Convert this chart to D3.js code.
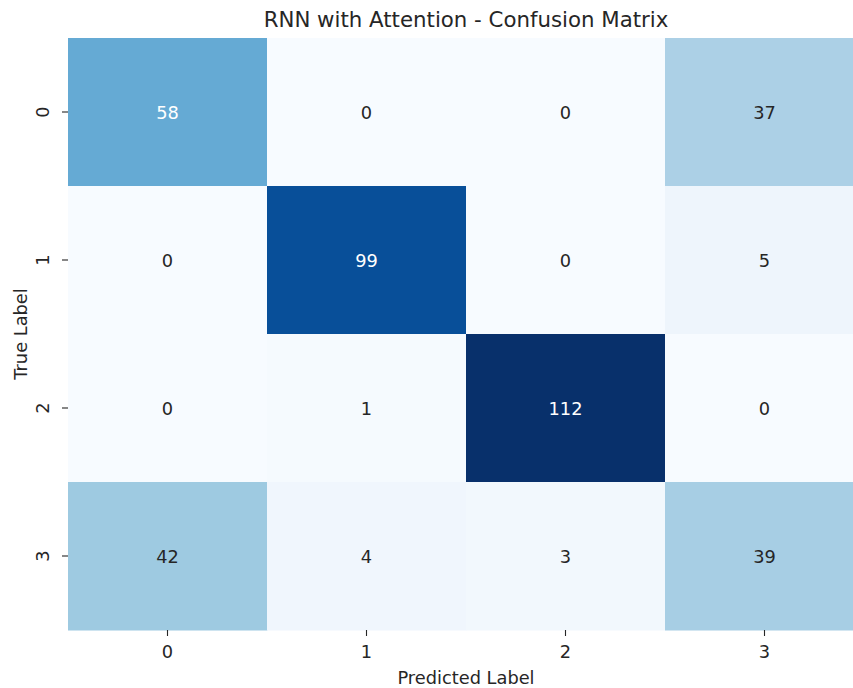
<!DOCTYPE html>
<html>
<head>
<meta charset="utf-8">
<script src="https://cdn.jsdelivr.net/npm/d3@7"></script>
<style>
  html, body { margin: 0; padding: 0; background: #fff; }
  svg { display: block; font-family: "DejaVu Sans", sans-serif; }
</style>
</head>
<body>
<svg id="chart" width="853" height="688"></svg>
<script>
// Confusion matrix counts: rows = true label, columns = predicted label
const classLabels = ["0", "1", "2", "3"];
const row0 = [58, 0, 0, 37];
const row1 = [0, 99, 0, 5];
const row2 = [0, 1, 112, 0];
const row3 = [42, 4, 3, 39];
const matrix = [row0, row1, row2, row3];

const titleText = "RNN with Attention - Confusion Matrix";
const xTitle = "Predicted Label";
const yTitle = "True Label";

const svg = d3.select("#chart");
const margin = { left: 68, top: 38, right: -11, bottom: 58 };
const W = 853, H = 688;
const labelSize = 17.8, titleSize = 21.3;
const ink = "#262626";

const x = d3.scaleBand().domain(classLabels).range([margin.left, W - margin.right]);
const y = d3.scaleBand().domain(classLabels).range([margin.top, H - margin.bottom]);

// Matplotlib-style "Blues" colormap: linear segments through the ColorBrewer stops
const bluesStops = ["#f7fbff", "#deebf7", "#c6dbef", "#9ecae1", "#6baed6",
                    "#4292c6", "#2171b5", "#08519c", "#08306b"];
const blues = d3.piecewise(d3.interpolateRgb, bluesStops);
const allVals = matrix.flat();
const color = d3.scaleSequential(blues).domain([d3.min(allVals), d3.max(allVals)]);

const cells = [];
matrix.forEach((row, i) => row.forEach((v, j) => cells.push({ r: classLabels[i], c: classLabels[j], v })));

svg.append("g").selectAll("rect").data(cells).join("rect")
  .attr("x", d => x(d.c))
  .attr("y", d => y(d.r))
  .attr("width", x.bandwidth() + 0.5)
  .attr("height", y.bandwidth() + 0.5)
  .attr("fill", d => color(d.v));

// Annotation text colour follows the cell luminance
function textColor(v) {
  const c = d3.rgb(color(v));
  const lin = ch => { ch /= 255; return ch <= 0.03928 ? ch / 12.92 : Math.pow((ch + 0.055) / 1.055, 2.4); };
  const lum = 0.2126 * lin(c.r) + 0.7152 * lin(c.g) + 0.0722 * lin(c.b);
  return lum > 0.408 ? ink : "#ffffff";
}

svg.append("g").selectAll("text").data(cells).join("text")
  .attr("x", d => x(d.c) + x.bandwidth() / 2)
  .attr("y", d => y(d.r) + y.bandwidth() / 2)
  .attr("text-anchor", "middle")
  .attr("dominant-baseline", "central")
  .attr("font-size", labelSize)
  .attr("fill", d => textColor(d.v))
  .text(d => d.v);

// Axes
const xAxis = svg.append("g")
  .attr("transform", `translate(0,${H - margin.bottom})`)
  .call(d3.axisBottom(x).tickSize(6).tickPadding(6));
const yAxis = svg.append("g")
  .attr("transform", `translate(${margin.left},0)`)
  .call(d3.axisLeft(y).tickSize(6).tickPadding(6));

[xAxis, yAxis].forEach(a => {
  a.select(".domain").remove();
  a.selectAll(".tick line").attr("stroke", ink).attr("stroke-width", 1.1);
  a.selectAll(".tick text").attr("font-size", labelSize).attr("fill", ink)
    .attr("font-family", "DejaVu Sans, sans-serif");
});
xAxis.selectAll(".tick text")
  .attr("y", null).attr("dy", null)
  .attr("transform", "translate(0,21)")
  .attr("dominant-baseline", "central");
yAxis.selectAll(".tick text")
  .attr("text-anchor", "middle")
  .attr("dy", null)
  .attr("x", null)
  .attr("transform", "translate(-26,0) rotate(-90)")
  .attr("dominant-baseline", "central");

svg.append("text")
  .attr("x", (margin.left + 864) / 2)
  .attr("y", 677)
  .attr("text-anchor", "middle")
  .attr("dominant-baseline", "central")
  .attr("font-size", labelSize)
  .attr("fill", ink)
  .text(xTitle);

svg.append("text")
  .attr("transform", `translate(20,${(margin.top + H - margin.bottom) / 2}) rotate(-90)`)
  .attr("text-anchor", "middle")
  .attr("dominant-baseline", "central")
  .attr("font-size", labelSize)
  .attr("fill", ink)
  .text(yTitle);

svg.append("text")
  .attr("x", (margin.left + 864) / 2)
  .attr("y", 19)
  .attr("text-anchor", "middle")
  .attr("dominant-baseline", "central")
  .attr("font-size", titleSize)
  .attr("fill", ink)
  .text(titleText);
</script>
</body>
</html>
